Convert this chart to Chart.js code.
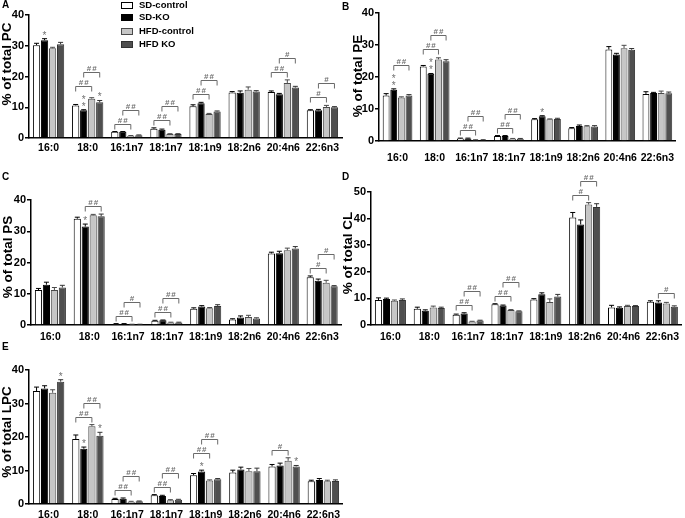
<!DOCTYPE html>
<html>
<head>
<title>Fatty acid composition of phospholipids</title>
<script src="https://cdn.jsdelivr.net/npm/chart.js"></script>
<style>
    body {
        margin: 0;
        background: #fff;
        font-family: Arial, "Liberation Sans", sans-serif;
    }
    #fig {
        position: relative;
        width: 685px;
        height: 518px;
        overflow: hidden;
    }
    #fig canvas {
        position: absolute;
    }
    .letter {
        position: absolute;
        font-weight: bold;
        font-size: 10px;
        line-height: 10px;
    }
    .item {
        position: absolute;
        left: 121px;
        white-space: nowrap;
        font-weight: bold;
        font-size: 9.5px;
        line-height: 10px;
    }
    .swatch {
        display: inline-block;
        width: 12px;
        height: 7px;
        box-sizing: border-box;
        border: 1px solid #000;
        vertical-align: -1px;
        margin-right: 6px;
    }
</style>
</head>
<body>
<div id="fig"></div>

<script>
const fattyAcids = ['16:0', '18:0', '16:1n7', '18:1n7', '18:1n9', '18:2n6', '20:4n6', '22:6n3'];
const groups = ['SD-control', 'SD-KO', 'HFD-control', 'HFD KO'];

// rows follow the groups order
const pcMeans = [
    [30.2, 10.6, 2.0, 3.0, 10.3, 14.8, 15.0, 9.0],
    [31.8, 9.0, 2.0, 2.7, 11.3, 14.7, 14.2, 9.0],
    [29.2, 12.8, 0.7, 1.3, 7.8, 15.7, 17.9, 10.1],
    [30.5, 11.6, 0.9, 1.3, 8.6, 15.1, 16.4, 10.0]
];
const pcErrors = [
    [0.6, 0.3, 0.1, 0.3, 0.5, 0.3, 0.3, 0.2],
    [0.5, 0.2, 0.1, 0.2, 0.3, 0.6, 0.3, 0.3],
    [0.3, 0.3, 0.1, 0.1, 0.2, 0.9, 1.0, 0.5],
    [0.6, 0.6, 0.1, 0.1, 0.2, 0.3, 0.4, 0.2]
];
const peMeans = [
    [14.2, 23.3, 0.8, 1.6, 6.8, 4.0, 28.6, 14.7],
    [16.0, 21.0, 0.8, 1.6, 7.7, 4.7, 27.0, 15.0],
    [13.6, 25.5, 0.3, 0.7, 6.8, 4.6, 29.0, 15.0],
    [14.2, 24.9, 0.3, 0.7, 6.9, 4.5, 28.5, 14.9]
];
const peErrors = [
    [0.6, 0.3, 0.1, 0.1, 0.2, 0.2, 0.9, 0.7],
    [0.3, 0.1, 0.1, 0.1, 0.2, 0.3, 0.4, 0.2],
    [0.2, 0.5, 0.1, 0.1, 0.1, 0.2, 0.9, 0.6],
    [0.3, 0.5, 0.1, 0.1, 0.2, 0.3, 0.4, 0.4]
];
const psMeans = [
    [11.2, 34.0, 0.4, 1.4, 5.2, 1.8, 22.9, 15.3],
    [12.9, 31.5, 0.4, 1.5, 5.9, 2.4, 23.0, 14.2],
    [11.2, 35.1, 0.2, 0.8, 5.4, 2.6, 23.9, 13.5],
    [12.0, 34.8, 0.2, 0.8, 6.1, 2.1, 24.5, 12.4]
];
const psErrors = [
    [0.5, 0.5, 0.05, 0.1, 0.3, 0.2, 0.4, 0.4],
    [0.8, 0.8, 0.05, 0.1, 0.3, 0.5, 0.6, 0.5],
    [0.8, 0.3, 0.05, 0.1, 0.2, 0.5, 0.7, 0.8],
    [0.7, 0.7, 0.05, 0.1, 0.4, 0.2, 0.6, 0.2]
];
const clMeans = [
    [9.4, 6.1, 3.9, 7.8, 9.6, 40.4, 6.6, 8.7],
    [9.8, 5.4, 4.3, 7.3, 11.6, 37.8, 6.5, 8.5],
    [9.1, 6.6, 1.3, 5.6, 8.6, 45.3, 7.1, 8.1],
    [9.4, 6.4, 1.7, 5.2, 10.7, 44.4, 7.1, 6.9]
];
const clErrors = [
    [0.8, 0.6, 0.2, 0.2, 0.3, 1.9, 0.8, 0.4],
    [0.3, 0.3, 0.3, 0.2, 0.5, 1.7, 0.3, 0.6],
    [0.3, 0.5, 0.1, 0.2, 1.2, 0.7, 0.3, 0.4],
    [0.4, 0.3, 0.1, 0.1, 0.8, 1.2, 0.2, 0.3]
];
const lpcMeans = [
    [33.7, 19.4, 1.5, 2.6, 8.6, 9.4, 11.2, 6.8],
    [34.5, 16.5, 1.6, 2.4, 9.7, 10.3, 11.5, 7.2],
    [33.2, 23.2, 0.7, 1.1, 7.0, 9.8, 12.9, 6.8],
    [36.5, 20.4, 0.8, 1.3, 7.4, 9.8, 11.2, 6.9]
];
const lpcErrors = [
    [1.2, 1.2, 0.2, 0.2, 0.5, 0.7, 0.6, 0.3],
    [0.8, 0.5, 0.2, 0.2, 0.4, 0.7, 0.7, 0.4],
    [0.9, 0.5, 0.1, 0.2, 0.2, 0.8, 0.9, 0.3],
    [0.6, 1.0, 0.1, 0.1, 0.2, 0.9, 0.3, 0.3]
];

// significance marks: [category, group, number of stars]
const pcStars = [[0, 1, 1], [1, 1, 2], [1, 3, 1]];
const peStars = [[0, 1, 2], [1, 1, 2], [4, 1, 1]];
const psStars = [[1, 1, 1]];
const clStars = [];
const lpcStars = [[0, 3, 1], [1, 1, 1], [1, 3, 1], [4, 1, 1], [6, 3, 1]];

// brackets: [category, from group, to group, label]
const pcBrackets = [
    [1, 0, 2, '##'], [1, 1, 3, '##'], [2, 0, 2, '##'], [2, 1, 3, '##'],
    [3, 0, 2, '##'], [3, 1, 3, '##'], [4, 0, 2, '##'], [4, 1, 3, '##'],
    [6, 0, 2, '##'], [6, 1, 3, '#'], [7, 0, 2, '#'], [7, 1, 3, '#']
];
const peBrackets = [
    [0, 1, 3, '##'], [1, 0, 2, '##'], [1, 1, 3, '##'],
    [2, 0, 2, '##'], [2, 1, 3, '##'], [3, 0, 2, '##'], [3, 1, 3, '##']
];
const psBrackets = [
    [1, 1, 3, '##'], [2, 0, 2, '##'], [2, 1, 3, '#'],
    [3, 0, 2, '##'], [3, 1, 3, '##'], [7, 0, 2, '#'], [7, 1, 3, '#']
];
const clBrackets = [
    [2, 0, 2, '##'], [2, 1, 3, '##'], [3, 0, 2, '##'], [3, 1, 3, '##'],
    [5, 0, 2, '#'], [5, 1, 3, '##'], [7, 1, 3, '#']
];
const lpcBrackets = [
    [1, 0, 2, '##'], [1, 1, 3, '##'], [2, 0, 2, '##'], [2, 1, 3, '##'],
    [3, 0, 2, '##'], [3, 1, 3, '##'], [4, 0, 2, '##'], [4, 1, 3, '##'],
    [6, 0, 2, '#']
];

const fills = ['#ffffff', '#000000', '#c6c6c6', '#4f4f4f'];
const borders = ['#000000', '#000000', '#4a4a4a', '#333333'];
const narrow = '"Liberation Sans Narrow", Arial, sans-serif';

// error bars, stars, brackets and the rotated axis title
const annotate = {
    id: 'annotate',
    afterDatasetsDraw(chart, args, opts) {
        const ctx = chart.ctx;
        const yScale = chart.scales.y;
        const tops = [];
        ctx.save();
        chart.data.datasets.forEach((ds, di) => {
            chart.getDatasetMeta(di).data.forEach((bar, ci) => {
                const yTop = yScale.getPixelForValue(ds.data[ci] + ds.errors[ci]);
                ctx.strokeStyle = ds.borderColor;
                ctx.lineWidth = 1;
                ctx.beginPath();
                ctx.moveTo(bar.x, bar.y);
                ctx.lineTo(bar.x, yTop);
                ctx.moveTo(bar.x - 2.5, yTop);
                ctx.lineTo(bar.x + 2.5, yTop);
                ctx.stroke();
                (tops[ci] = tops[ci] || [])[di] = yTop;
            });
        });

        ctx.fillStyle = '#707070';
        ctx.textAlign = 'center';
        ctx.textBaseline = 'alphabetic';
        ctx.font = '10px Arial';
        opts.stars.forEach(([ci, di, n]) => {
            const x = chart.getDatasetMeta(di).data[ci].x;
            const base = tops[ci][di];
            for (let k = 0; k < n; k++) {
                const cy = base - 6 - 7 * k;
                ctx.fillText('*', x, cy + 6);
                tops[ci][di] = Math.min(tops[ci][di], cy - 3);
            }
        });

        const placed = [];
        ctx.strokeStyle = '#6a6a6a';
        ctx.font = 'bold 8px Arial';
        ctx.letterSpacing = '1px';
        opts.brackets.forEach(([ci, a, b, label]) => {
            const xa = chart.getDatasetMeta(a).data[ci].x;
            const xb = chart.getDatasetMeta(b).data[ci].x;
            let yb = Math.min(...tops[ci].slice(a, b + 1)) - 8;
            placed.filter(p => p.ci === ci && p.a <= b && p.b >= a)
                .forEach(p => { yb = Math.min(yb, p.y - 15); });
            yb = Math.round(yb) + 0.5;
            ctx.beginPath();
            ctx.moveTo(xa, yb + 5);
            ctx.lineTo(xa, yb);
            ctx.lineTo(xb, yb);
            ctx.lineTo(xb, yb + 5);
            ctx.stroke();
            ctx.fillText(label, (xa + xb) / 2 + 0.5, yb - 2);
            placed.push({ci, a, b, y: yb});
        });
        ctx.restore();

        // y axis title
        ctx.save();
        ctx.translate(opts.titleX, opts.titleY);
        ctx.rotate(-Math.PI / 2);
        ctx.fillStyle = '#000';
        ctx.font = 'bold 13.5px Arial, "Liberation Sans", sans-serif';
        ctx.textAlign = 'center';
        ctx.textBaseline = 'middle';
        ctx.fillText(opts.title, 0, 0);
        ctx.restore();
    }
};

const panels = [
    {letter: 'A', left: 0, top: 0, w: 345, h: 160, l: 29, t: 15, b: 138, r: 342, max: 40,
     title: '% of total PC', tx: 7, ty: 64, xPad: 4, means: pcMeans, errors: pcErrors, stars: pcStars, brackets: pcBrackets},
    {letter: 'B', left: 340, top: 0, w: 345, h: 170, l: 39, t: 13, b: 141, r: 345, max: 40,
     title: '% of total PE', tx: 18, ty: 76, xPad: 11, means: peMeans, errors: peErrors, stars: peStars, brackets: peBrackets},
    {letter: 'C', left: 0, top: 170, w: 345, h: 175, l: 31, t: 30, b: 155, r: 342, max: 40,
     title: '% of total PS', tx: 8, ty: 87, xPad: 6, means: psMeans, errors: psErrors, stars: psStars, brackets: psBrackets},
    {letter: 'D', left: 340, top: 170, w: 345, h: 175, l: 31, t: 22, b: 155, r: 345, max: 50,
     title: '% of total CL', tx: 8, ty: 83, xPad: 6, means: clMeans, errors: clErrors, stars: clStars, brackets: clBrackets},
    {letter: 'E', left: 0, top: 340, w: 345, h: 178, l: 29, t: 30, b: 164, r: 345, max: 40,
     title: '% of total LPC', tx: 7, ty: 92, xPad: 5, means: lpcMeans, errors: lpcErrors, stars: lpcStars, brackets: lpcBrackets}
];

const fig = document.getElementById('fig');

panels.forEach(p => {
    const canvas = document.createElement('canvas');
    canvas.width = p.w;
    canvas.height = p.h;
    canvas.style.left = p.left + 'px';
    canvas.style.top = p.top + 'px';
    fig.appendChild(canvas);

    new Chart(canvas, {
        type: 'bar',
        data: {
            labels: fattyAcids,
            datasets: groups.map((g, i) => ({
                label: g,
                data: p.means[i],
                errors: p.errors[i],
                backgroundColor: fills[i],
                borderColor: borders[i],
                borderWidth: 1,
                barPercentage: 0.9,
                categoryPercentage: 0.82
            }))
        },
        options: {
            responsive: false,
            animation: false,
            events: [],
            layout: { padding: { left: 0, top: p.t, right: p.w - p.r, bottom: 0 } },
            plugins: {
                legend: { display: false },
                tooltip: { enabled: false },
                annotate: {
                    stars: p.stars, brackets: p.brackets,
                    title: p.title, titleX: p.tx, titleY: p.ty
                }
            },
            scales: {
                x: {
                    grid: { display: false, drawTicks: false },
                    border: { color: '#000', width: 1.5 },
                    ticks: {
                        color: '#000', padding: p.xPad, maxRotation: 0, autoSkip: false,
                        font: { family: narrow, weight: 'bold', size: 10.5 }
                    },
                    afterFit(s) { s.height = p.h - p.b; }
                },
                y: {
                    min: 0,
                    max: p.max,
                    grid: { drawOnChartArea: false, tickLength: 4, color: '#000', lineWidth: 1.5 },
                    border: { color: '#000', width: 1.5 },
                    ticks: {
                        stepSize: 10, color: '#000', padding: 1,
                        font: { family: 'Arial, "Liberation Sans", sans-serif', weight: 'bold', size: 11 }
                    },
                    afterFit(s) { s.width = p.l; }
                }
            }
        },
        plugins: [annotate]
    });

    const letter = document.createElement('div');
    letter.className = 'letter';
    letter.textContent = p.letter;
    letter.style.left = (p.left + 2) + 'px';
    letter.style.top = (p.top + (p.letter === 'A' ? 0 : 2)) + 'px';
    fig.appendChild(letter);
});

// legend, shared by all panels
const legendRows = [0, 12, 26, 39];
groups.forEach((g, i) => {
    const item = document.createElement('div');
    item.className = 'item';
    item.style.top = legendRows[i] + 'px';
    const sw = document.createElement('span');
    sw.className = 'swatch';
    sw.style.background = fills[i];
    sw.style.borderColor = borders[i];
    item.appendChild(sw);
    item.appendChild(document.createTextNode(g));
    fig.appendChild(item);
});
</script>
</body>
</html>
